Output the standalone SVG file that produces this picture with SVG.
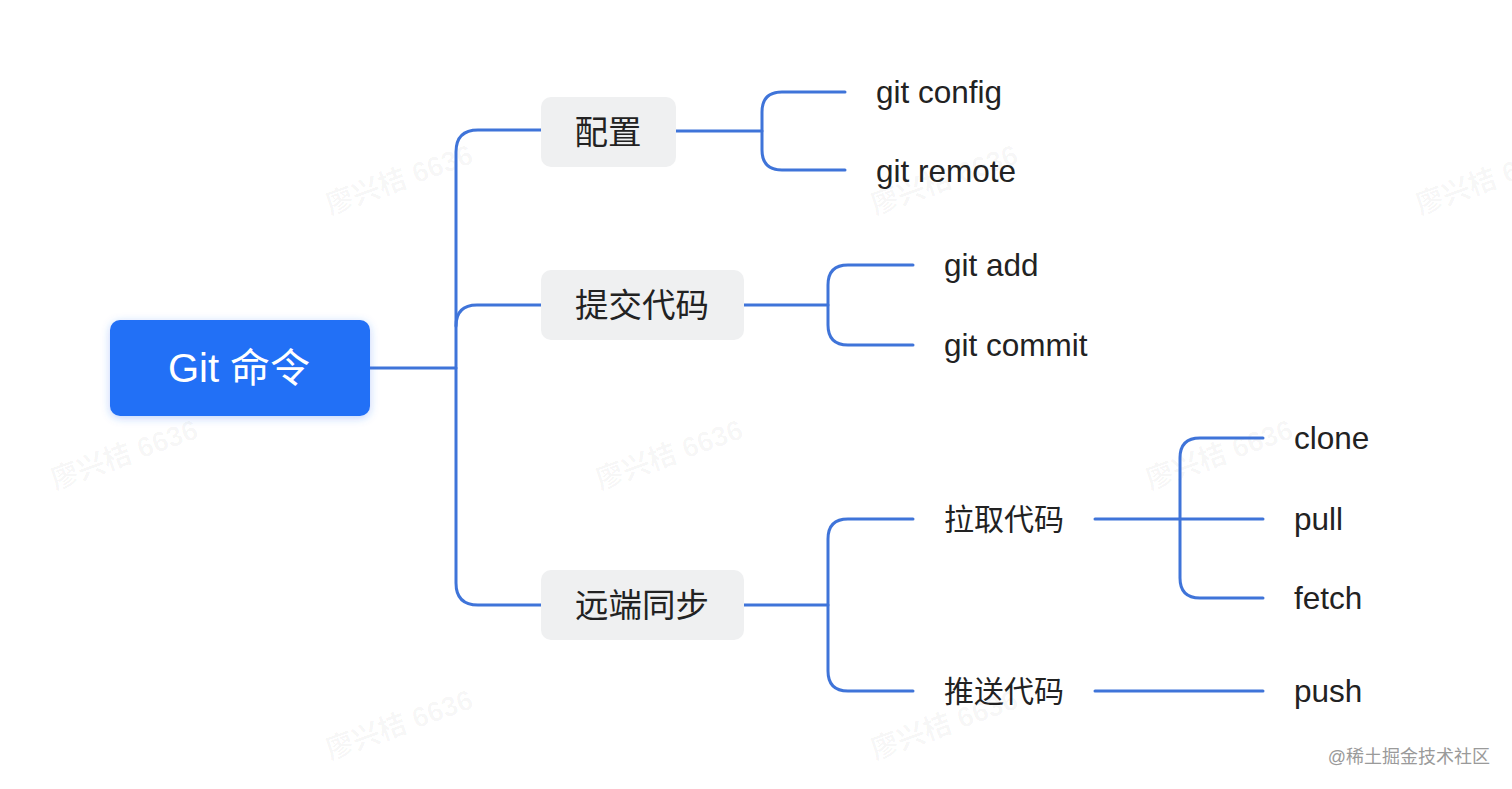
<svg xmlns="http://www.w3.org/2000/svg" width="1512" height="789" viewBox="0 0 1512 789">
<style>
.wm{font-family:"Liberation Sans","Noto Sans CJK SC",sans-serif;font-size:28px;font-weight:bold;fill:#000;fill-opacity:0.035}
.c{fill:none;stroke:#3f74d9;stroke-width:3;stroke-linecap:round;stroke-linejoin:round}
.box{fill:#eff0f1}
.cn{font-family:"Liberation Sans","Noto Sans CJK SC",sans-serif;font-size:30px;fill:#222}
.bx{font-family:"Liberation Sans","Noto Sans CJK SC",sans-serif;font-size:33.5px;fill:#222}
.en{font-family:"Liberation Sans","Noto Sans CJK SC",sans-serif;font-size:31.5px;fill:#222}
</style>
<defs>
<filter id="sh" x="-20%" y="-30%" width="140%" height="160%">
<feDropShadow dx="0" dy="2" stdDeviation="4" flood-color="#2a6ff5" flood-opacity="0.3"/>
</filter>
</defs>
<rect width="1512" height="789" fill="#fff"/>
<g id="watermarks">
<text class="wm" transform="translate(330,215) rotate(-20)">廖兴桔 6636</text>
<text class="wm" transform="translate(875,215) rotate(-20)">廖兴桔 6636</text>
<text class="wm" transform="translate(1420,215) rotate(-20)">廖兴桔 6636</text>
<text class="wm" transform="translate(55,490) rotate(-20)">廖兴桔 6636</text>
<text class="wm" transform="translate(600,490) rotate(-20)">廖兴桔 6636</text>
<text class="wm" transform="translate(1150,490) rotate(-20)">廖兴桔 6636</text>
<text class="wm" transform="translate(330,760) rotate(-20)">廖兴桔 6636</text>
<text class="wm" transform="translate(875,760) rotate(-20)">廖兴桔 6636</text>
</g>
<g id="connectors">
<path class="c" d="M370,368 H456"/>
<path class="c" d="M541,130 H478 Q456,130 456,152 V583 Q456,605 478,605 H541"/>
<path class="c" d="M456,326 Q456,305 477,305 H541"/>
<path class="c" d="M676,131 H762"/>
<path class="c" d="M845,92 H782 Q762,92 762,112 V150 Q762,170 782,170 H845"/>
<path class="c" d="M744,305 H828"/>
<path class="c" d="M913,265 H848 Q828,265 828,285 V325 Q828,345 848,345 H913"/>
<path class="c" d="M744,605 H828"/>
<path class="c" d="M913,519 H848 Q828,519 828,539 V671 Q828,691 848,691 H913"/>
<path class="c" d="M1095,519 H1263"/>
<path class="c" d="M1263,438 H1200 Q1180,438 1180,458 V578 Q1180,598 1200,598 H1263"/>
<path class="c" d="M1095,691 H1263"/>
</g>
<g id="root">
<rect x="110" y="320" width="260" height="96" rx="10" fill="#2470f6" filter="url(#sh)"/>
<text x="239" y="382" text-anchor="middle" font-family="Liberation Sans,'Noto Sans CJK SC',sans-serif" font-size="40" fill="#fff">Git 命令</text>
</g>
<g id="peizhi">
<rect class="box" x="541" y="97" width="135" height="70" rx="10"/>
<text class="bx" x="608" y="144" text-anchor="middle">配置</text>
</g>
<g id="tijiao">
<rect class="box" x="541" y="270" width="203" height="70" rx="10"/>
<text class="bx" x="642" y="317" text-anchor="middle">提交代码</text>
</g>
<g id="yuanduan">
<rect class="box" x="541" y="570" width="203" height="70" rx="10"/>
<text class="bx" x="642" y="617" text-anchor="middle">远端同步</text>
</g>
<g id="gitconfig"><text class="en" x="876" y="103">git config</text></g>
<g id="gitremote"><text class="en" x="876" y="182">git remote</text></g>
<g id="gitadd"><text class="en" x="944" y="276">git add</text></g>
<g id="gitcommit"><text class="en" x="944" y="356">git commit</text></g>
<g id="laqu"><text class="cn" x="944" y="530">拉取代码</text></g>
<g id="tuisong"><text class="cn" x="944" y="702">推送代码</text></g>
<g id="clone"><text class="en" x="1294" y="449">clone</text></g>
<g id="pull"><text class="en" x="1294" y="530">pull</text></g>
<g id="fetch"><text class="en" x="1294" y="609">fetch</text></g>
<g id="push"><text class="en" x="1294" y="702">push</text></g>
<text x="1490" y="763" text-anchor="end" font-family="Liberation Sans,'Noto Sans CJK SC',sans-serif" font-size="18" fill="#9a9a9a">@稀土掘金技术社区</text>
</svg>
